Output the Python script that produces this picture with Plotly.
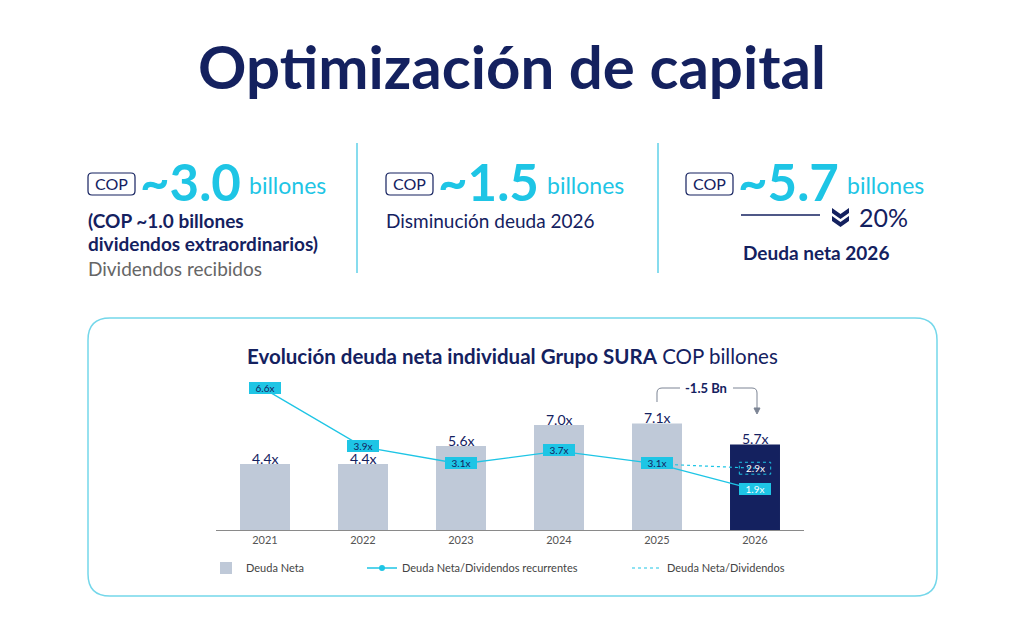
import plotly.graph_objects as go

# ---------------- data ----------------
years = ["2021", "2022", "2023", "2024", "2025", "2026"]
deuda_neta = [4.4, 4.4, 5.6, 7.0, 7.1, 5.7]
ratio_recurrentes = [6.6, 3.9, 3.1, 3.7, 3.1, 1.9]
ratio_total_years = ["2025", "2026"]
ratio_total = [3.1, 2.9]

NAVY = "#14215F"
CYAN = "#1EC5E5"
BAR_GRAY = "#BFC9D8"
FONT = "Lato"

W, H = 1024, 634
def px(x):
    return x / W
def py(y):
    return 1 - y / H

xpos = list(range(len(years)))
xpos_total = [years.index(y) for y in ratio_total_years]

fig = go.Figure()

bar_colors = [BAR_GRAY] * (len(years) - 1) + [NAVY]
fig.add_trace(go.Bar(
    x=xpos, y=deuda_neta, name="Deuda Neta",
    marker=dict(color=bar_colors, line=dict(width=0)),
    legend="legend", yaxis="y",
))
fig.add_trace(go.Scatter(
    x=xpos_total, y=ratio_total, name="Deuda Neta/Dividendos",
    mode="lines", line=dict(color=CYAN, width=1.2, dash="dot"),
    yaxis="y2", legend="legend3",
))
fig.add_trace(go.Scatter(
    x=xpos, y=ratio_recurrentes, name="Deuda Neta/Dividendos recurrentes",
    mode="lines+markers", line=dict(color=CYAN, width=1.3),
    marker=dict(color=CYAN, size=6),
    yaxis="y2", legend="legend2",
))

annotations = []
shapes = []

def ann(**kw):
    d = dict(showarrow=False, xanchor="center", yanchor="middle")
    d.update(kw)
    annotations.append(d)

# bar value labels
for i, v in zip(xpos, deuda_neta):
    ann(x=i, y=v, xref="x", yref="y", yanchor="bottom", yshift=-3.5, borderpad=0,
        text=f"{v:.1f}x", font=dict(family=FONT, size=14, color=NAVY))

# line value labels
for i, v in zip(xpos, ratio_recurrentes):
    last = i == xpos[-1]
    ann(x=i, y=v, xref="x", yref="y2", text=f"{v:.1f}x", width=30, height=10,
        yshift=1,
        font=dict(family=FONT, size=10, color="white" if last else NAVY),
        bgcolor=CYAN, borderpad=1, borderwidth=0)
# dotted total label (last)
ann(x=xpos_total[-1], y=ratio_total[-1], xref="x", yref="y2",
    text=f"{ratio_total[-1]:.1f}x", font=dict(family=FONT, size=10, color="white"))
shapes.append(dict(type="rect", xref="x", yref="y2",
                   x0=xpos_total[-1] - 0.16, x1=xpos_total[-1] + 0.16,
                   y0=ratio_total[-1] - 0.28, y1=ratio_total[-1] + 0.28,
                   line=dict(color=CYAN, width=1, dash="dot"),
                   fillcolor="rgba(0,0,0,0)", layer="above"))

def P(x, y):
    return f"{px(x):.5f},{py(y):.5f}"

def rrect(x0, y0, x1, y1, r):
    return (f"M {P(x0+r,y0)} L {P(x1-r,y0)} Q {P(x1,y0)} {P(x1,y0+r)} "
            f"L {P(x1,y1-r)} Q {P(x1,y1)} {P(x1-r,y1)} L {P(x0+r,y1)} "
            f"Q {P(x0,y1)} {P(x0,y1-r)} L {P(x0,y0+r)} Q {P(x0,y0)} {P(x0+r,y0)} Z")

# container rounded rect
shapes.append(dict(type="path", xref="paper", yref="paper",
                   path=rrect(88, 318, 937, 596, 22),
                   line=dict(color="#74D7EA", width=1.5), layer="below"))

# dividers
for xd in (357, 658):
    shapes.append(dict(type="line", xref="paper", yref="paper",
                       x0=px(xd), x1=px(xd), y0=py(143), y1=py(273),
                       line=dict(color="#5FD1E8", width=1.5)))

# Title
ann(x=0.5, y=py(66), xref="paper", yref="paper",
    text="<b>Optimización de capital</b>",
    font=dict(family=FONT, size=60, color=NAVY))

# KPI blocks
kpis = [(88, "~3.0"), (386, "~1.5"), (686, "~5.7")]
for xk, big in kpis:
    shapes.append(dict(type="path", xref="paper", yref="paper",
                       path=rrect(xk, 173, xk + 47, 195, 4),
                       line=dict(color=NAVY, width=1.2)))
    ann(x=px(xk + 23.5), y=py(184), xref="paper", yref="paper",
        text="COP", font=dict(family=FONT, size=16, color=NAVY))
    ann(x=px(xk + 50), y=py(181), xref="paper", yref="paper", xanchor="left",
        text=f"<b>{big}</b>", height=40, valign="middle",
        font=dict(family=FONT, size=51, color=CYAN))
    ann(x=px(xk + 159), y=py(185), xref="paper", yref="paper", xanchor="left",
        text="billones", font=dict(family=FONT, size=23, color=CYAN))

ann(x=px(86), y=py(220), xref="paper", yref="paper", xanchor="left",
    text="<b>(COP ~1.0 billones</b>", font=dict(family=FONT, size=19, color=NAVY))
ann(x=px(86), y=py(243), xref="paper", yref="paper", xanchor="left",
    text="<b>dividendos extraordinarios)</b>", font=dict(family=FONT, size=19, color=NAVY))
ann(x=px(86), y=py(268), xref="paper", yref="paper", xanchor="left",
    text="Dividendos recibidos", font=dict(family=FONT, size=19, color="#666666"))
ann(x=px(384), y=py(220), xref="paper", yref="paper", xanchor="left",
    text="Disminución deuda 2026", font=dict(family=FONT, size=19, color=NAVY))
ann(x=px(857), y=py(217), xref="paper", yref="paper", xanchor="left",
    text="20%", font=dict(family=FONT, size=25, color=NAVY))
ann(x=px(816), y=py(253), xref="paper", yref="paper",
    text="<b>Deuda neta 2026</b>", font=dict(family=FONT, size=19, color=NAVY))
ann(x=px(512), y=py(356), xref="paper", yref="paper",
    text="<b>Evolución deuda neta individual Grupo SURA</b> COP billones",
    font=dict(family=FONT, size=20.5, color=NAVY))
ann(x=px(706), y=py(388), xref="paper", yref="paper",
    text="<b>-1.5 Bn</b>", font=dict(family=FONT, size=13, color=NAVY))

# line under 5.7 and chevrons
shapes.append(dict(type="line", xref="paper", yref="paper",
                   x0=px(741), x1=px(820), y0=py(215), y1=py(215),
                   line=dict(color=NAVY, width=1.5)))
for dy in (0, 8):
    cpath = (f"M {P(832,208+dy)} L {P(840.5,214+dy)} L {P(849,208+dy)} "
             f"L {P(849,213+dy)} L {P(840.5,219+dy)} L {P(832,213+dy)} Z")
    shapes.append(dict(type="path", xref="paper", yref="paper", path=cpath,
                       fillcolor=NAVY, line=dict(width=0)))

# bracket -1.5 Bn
GR = "#7C8494"
bpath1 = f"M {P(657,402)} L {P(657,393)} Q {P(657,388)} {P(662,388)} L {P(680,388)}"
bpath2 = f"M {P(733,388)} L {P(752,388)} Q {P(757,388)} {P(757,393)} L {P(757,410)}"
for pth in (bpath1, bpath2):
    shapes.append(dict(type="path", xref="paper", yref="paper", path=pth,
                       line=dict(color=GR, width=1)))
shapes.append(dict(type="path", xref="paper", yref="paper",
                   path=f"M {P(754,408)} L {P(757,414)} L {P(760,408)} Z",
                   fillcolor=GR, line=dict(color=GR, width=1)))

legend_common = dict(orientation="h", yanchor="middle", xanchor="left",
                     bgcolor="rgba(0,0,0,0)",
                     font=dict(family=FONT, size=11, color="#444444"))

fig.update_layout(
    width=W, height=H, autosize=False,
    margin=dict(l=0, r=0, t=0, b=0),
    paper_bgcolor="white", plot_bgcolor="white",
    bargap=0.49,
    showlegend=True,
    legend=dict(x=px(206), y=py(568), **legend_common),
    legend2=dict(x=px(362), y=py(568), **legend_common),
    legend3=dict(x=px(627), y=py(568), **legend_common),
    xaxis=dict(domain=[px(216), px(804)], range=[-0.5, len(years) - 0.5],
               tickmode="array", tickvals=xpos, ticktext=years,
               showline=True, linecolor="#8A8A8A",
               linewidth=1, showgrid=False, ticks="", zeroline=False,
               tickfont=dict(family=FONT, size=11, color="#555555"),
               fixedrange=True),
    yaxis=dict(domain=[py(530), py(375)], range=[0, 155 / 15], visible=False,
               showgrid=False, zeroline=False, fixedrange=True),
    yaxis2=dict(overlaying="y", range=[0, 155 / 21.3], visible=False,
                showgrid=False, zeroline=False, fixedrange=True),
    annotations=annotations,
    shapes=shapes,
)

fig.write_html("out.html", config={"displayModeBar": False},
               post_script="document.body.style.margin='0';")
